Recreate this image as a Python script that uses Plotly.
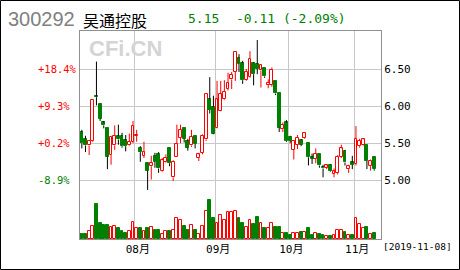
import plotly.graph_objects as go

# ---------------- data ----------------
opens = [5.65, 5.56, 5.47, 5.53, 6.13, 6.03, 5.78, 5.71, 5.34, 5.47,
         5.60, 5.60, 5.54, 5.47, 5.52, 5.60, 5.44, 5.33, 5.23, 5.19,
         5.33, 5.36, 5.12, 5.24, 5.44, 5.04, 5.32, 5.57, 5.70, 5.53,
         5.47, 5.60, 5.30, 5.37, 5.55, 6.09, 5.99, 5.71, 5.94, 6.09,
         6.23, 6.36, 6.46, 6.65, 6.58, 6.35, 6.39, 6.58, 6.57, 6.48,
         6.51, 6.29, 6.29, 6.34, 6.18, 5.69, 5.78, 5.59, 5.41, 5.48,
         5.54, 5.57, 5.50, 5.31, 5.29, 5.35, 5.18, 5.17, 5.21, 5.09,
         5.10, 5.32, 5.40, 5.15, 5.24, 5.22, 5.46, 5.47, 5.47, 5.19,
         5.31]
closes = [5.50, 5.47, 5.53, 6.08, 6.12, 5.83, 5.74, 5.32, 5.59, 5.60,
          5.55, 5.46, 5.46, 5.52, 5.73, 5.61, 5.38, 5.38, 5.13, 5.23,
          5.25, 5.16, 5.27, 5.30, 5.23, 5.25, 5.49, 5.68, 5.56, 5.44,
          5.59, 5.49, 5.35, 5.60, 6.16, 5.95, 5.63, 6.09, 6.16, 6.19,
          6.31, 6.42, 6.73, 6.57, 6.35, 6.46, 6.64, 6.43, 6.50, 6.55,
          6.40, 6.31, 6.49, 6.17, 5.71, 5.75, 5.53, 5.53, 5.53, 5.57,
          5.48, 5.64, 5.31, 5.29, 5.36, 5.20, 5.16, 5.20, 5.12, 5.12,
          5.32, 5.43, 5.24, 5.19, 5.21, 5.56, 5.53, 5.55, 5.26, 5.26,
          5.15]
highs = [5.68, 5.60, 5.54, 6.08, 6.60, 6.03, 5.80, 5.71, 5.60, 5.74,
         5.75, 5.64, 5.61, 5.63, 5.80, 5.68, 5.46, 5.52, 5.23, 5.33,
         5.37, 5.38, 5.30, 5.35, 5.44, 5.27, 5.75, 5.75, 5.70, 5.56,
         5.68, 5.60, 5.37, 5.62, 6.16, 6.39, 6.14, 6.34, 6.34, 6.35,
         6.45, 6.46, 6.73, 6.70, 6.61, 6.50, 6.74, 6.59, 6.89, 6.56,
         6.51, 6.36, 6.52, 6.34, 6.18, 5.78, 5.81, 5.60, 5.53, 5.61,
         5.55, 5.64, 5.50, 5.36, 5.43, 5.35, 5.21, 5.21, 5.22, 5.16,
         5.34, 5.48, 5.41, 5.21, 5.33, 5.73, 5.56, 5.57, 5.47, 5.28,
         5.31]
lows = [5.43, 5.38, 5.34, 5.52, 6.01, 5.80, 5.70, 5.15, 5.21, 5.41,
        5.48, 5.44, 5.39, 5.46, 5.50, 5.52, 5.25, 5.30, 4.87, 5.01,
        5.17, 5.10, 5.11, 5.23, 5.19, 4.99, 5.32, 5.50, 5.51, 5.40,
        5.45, 5.43, 5.26, 5.35, 5.53, 5.90, 5.62, 5.70, 5.93, 6.08,
        6.21, 6.23, 6.34, 6.46, 6.30, 6.34, 6.38, 6.28, 6.43, 6.25,
        6.38, 6.24, 6.26, 6.15, 5.65, 5.65, 5.52, 5.50, 5.28, 5.42,
        5.46, 5.56, 5.20, 5.22, 5.23, 5.17, 5.04, 5.15, 5.11, 5.04,
        5.08, 5.30, 5.20, 5.10, 5.15, 5.20, 5.44, 5.46, 5.15, 5.13,
        5.13]
volumes = [53, 53, 83, 130, 353, 163, 143, 143, 120, 130,
           106, 83, 60, 83, 170, 106, 113, 83, 106, 120,
           93, 93, 46, 83, 83, 93, 210, 186, 130, 93,
           140, 93, 46, 130, 283, 386, 210, 163, 240, 186,
           270, 270, 283, 213, 163, 123, 193, 153, 223, 163,
           113, 106, 163, 123, 123, 60, 60, 36, 60, 60,
           73, 73, 113, 43, 60, 53, 43, 30, 30, 43,
           93, 93, 73, 43, 43, 210, 153, 106, 123, 53,
           60]
month_labels = ["08月", "09月", "10月", "11月"]
month_start_idx = [15, 37, 57, 75]
price_ticks = [6.50, 6.00, 5.50, 5.00]
price_ticktext = ["6.50", "6.00", "5.50", "5.00"]
pct_labels = ["+18.4%", "+9.3%", "+0.2%", "-8.9%"]
code = "300292"
name = "吴通控股"
last_price = "5.15"
change_text = "-0.11 (-2.09%)"
date_text = "[2019-11-08]"

# ---------------- styling ----------------
RED = "#ff0000"
GREEN = "#008000"
GRID = "#c8c8c8"
FRAME = "#909090"
MONO = "DejaVu Sans Mono, Noto Sans CJK SC"

W, H = 460, 270
L, R, T, B = 80, 381, 31, 239  # plot area pixel box


def px_x(px):
    return (px - L) / (R - L)


def px_y(py):
    return (B - py) / (B - T)


n = len(closes)
x = list(range(n))
up = [c >= o for o, c in zip(opens, closes)]

fig = go.Figure()

# wicks (split so they do not cross the bodies)
for is_up, col in ((True, RED), (False, "#000000")):
    wx, wy = [], []
    for i in range(n):
        if up[i] != is_up:
            continue
        top = max(opens[i], closes[i])
        bot = min(opens[i], closes[i])
        wx += [i, i, None, i, i, None]
        wy += [highs[i], top, None, bot, lows[i], None]
    fig.add_trace(go.Scatter(x=wx, y=wy, mode="lines",
                             line=dict(color=col, width=1),
                             hoverinfo="skip", yaxis="y"))

# bodies
ui = [i for i in range(n) if up[i]]
di = [i for i in range(n) if not up[i]]
fig.add_trace(go.Bar(
    x=ui, base=[opens[i] for i in ui],
    y=[max(closes[i] - opens[i], 0.012) for i in ui],
    width=0.78, marker=dict(color="white", line=dict(color=RED, width=1)),
    yaxis="y"))
fig.add_trace(go.Bar(
    x=di, base=[closes[i] for i in di],
    y=[max(opens[i] - closes[i], 0.012) for i in di],
    width=0.78, marker=dict(color=GREEN, line=dict(color=GREEN, width=1)),
    yaxis="y"))

# volume
fig.add_trace(go.Bar(
    x=ui, y=[volumes[i] for i in ui], width=0.78,
    marker=dict(color="white", line=dict(color=RED, width=1)), yaxis="y2"))
fig.add_trace(go.Bar(
    x=di, y=[volumes[i] for i in di], width=0.78,
    marker=dict(color=GREEN, line=dict(color=GREEN, width=1)), yaxis="y2"))

# price axis range so that 6.50 sits at y=69 px and 5.00 at y=180.3 px
ppx = (180.3 - 69.0) / (6.50 - 5.00)
ymax = 6.50 + (69.0 - T) / ppx
ymin = 5.00 - (B - 180.3) / ppx
xmax = -0.5 + (R - L) / 3.655

annotations = []
for t, v in zip(pct_labels, price_ticks):
    annotations.append(dict(
        xref="paper", yref="y", x=px_x(36), y=v, xanchor="left", yanchor="middle",
        text=t, showarrow=False,
        font=dict(family=MONO, size=10.5, color=GREEN if t.startswith("-") else RED)))

annotations += [
    dict(xref="paper", yref="paper", x=px_x(6), y=px_y(19), xanchor="left",
         yanchor="middle", text=code, showarrow=False,
         font=dict(family="Liberation Sans, Arial", size=20, color="#808080")),
    dict(xref="paper", yref="paper", x=px_x(81), y=px_y(19.5), xanchor="left",
         yanchor="middle", text=name, showarrow=False,
         font=dict(family="Noto Sans CJK SC", size=16, color="#000000")),
    dict(xref="paper", yref="paper", x=px_x(186), y=px_y(19), xanchor="left",
         yanchor="middle", text=last_price, showarrow=False,
         font=dict(family=MONO, size=13, color=GREEN)),
    dict(xref="paper", yref="paper", x=px_x(234), y=px_y(19), xanchor="left",
         yanchor="middle", text=change_text, showarrow=False,
         font=dict(family=MONO, size=13, color=GREEN)),
    dict(xref="paper", yref="paper", x=px_x(87), y=px_y(48), xanchor="left",
         yanchor="middle", text="<b>CFi.CN</b>", showarrow=False,
         font=dict(family="Liberation Sans, Arial", size=22, color="#d4d4d4")),
    dict(xref="paper", yref="paper", x=px_x(381), y=px_y(246.5), xanchor="left",
         yanchor="middle", text=date_text, showarrow=False,
         font=dict(family=MONO, size=9.5, color="#000000")),
]

shapes = [dict(type="rect", xref="paper", yref="paper",
               x0=px_x(0.5), x1=px_x(459.5), y0=px_y(269.5), y1=px_y(0.5),
               line=dict(color="#000000", width=1), fillcolor="rgba(0,0,0,0)",
               layer="above")]

fig.update_layout(
    width=W, height=H, autosize=False,
    margin=dict(l=L, r=W - R, t=T, b=H - B, pad=0),
    paper_bgcolor="white", plot_bgcolor="white",
    showlegend=False, barmode="overlay", bargap=0,
    annotations=annotations, shapes=shapes,
    xaxis=dict(range=[-0.5, xmax], tickvals=[m - 0.5 for m in month_start_idx],
               ticktext=month_labels, showgrid=True, gridcolor=GRID, gridwidth=1,
               zeroline=False, showline=True, mirror=True, linecolor=FRAME,
               ticks="", tickfont=dict(family=MONO, size=11, color="#000000"),
               ticklabelshift=3, fixedrange=True),
    yaxis=dict(range=[ymin, ymax], side="right", tickvals=price_ticks,
               ticktext=price_ticktext, showgrid=True, gridcolor=GRID,
               zeroline=False, showline=True, mirror=True, linecolor=FRAME,
               ticks="", tickfont=dict(family=MONO, size=11, color="#000000"),
               fixedrange=True),
    yaxis2=dict(range=[0, 2080], overlaying="y", visible=False, fixedrange=True),
)

fig.write_html("out.html", config={"displayModeBar": False})
